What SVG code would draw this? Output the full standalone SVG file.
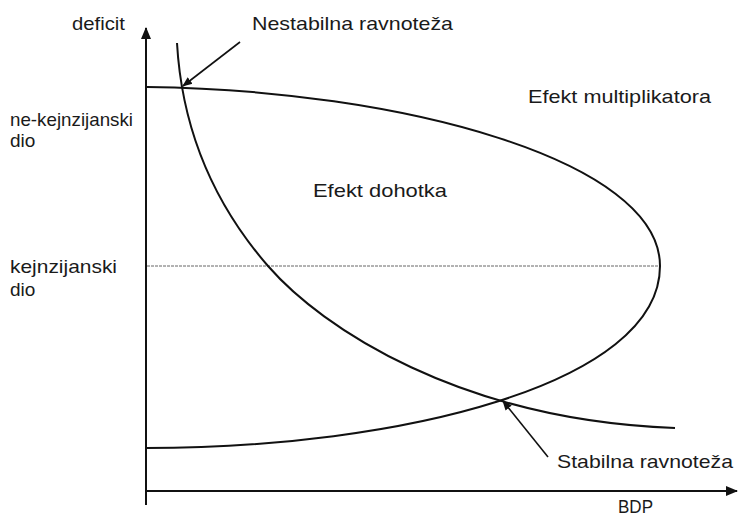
<svg xmlns="http://www.w3.org/2000/svg" width="739" height="518" viewBox="0 0 739 518">
<style>
.t{font-family:"Liberation Sans",Arial,sans-serif;font-size:19px;fill:#1a1a1a}
.c{fill:none;stroke:#111;stroke-width:2}
.ax{fill:none;stroke:#111;stroke-width:2}
.pt{fill:none;stroke:#111;stroke-width:1.6}
</style>
<defs>
<marker id="ah" viewBox="0 0 10 10" refX="9" refY="5" markerWidth="10" markerHeight="10" markerUnits="userSpaceOnUse" orient="auto"><path d="M0,1 L10,5 L0,9 Z" fill="#111"/></marker>
<marker id="axh" viewBox="0 0 12 10" refX="11" refY="5" markerWidth="12" markerHeight="10" markerUnits="userSpaceOnUse" orient="auto"><path d="M0,0 L12,5 L0,10 Z" fill="#111"/></marker>
</defs>
<rect width="739" height="518" fill="#fff"/>
<g id="axes">
<line class="ax" x1="146" y1="505" x2="146" y2="28" marker-end="url(#axh)"/>
<line class="ax" x1="145" y1="491" x2="737" y2="491" marker-end="url(#axh)"/>
</g>
<g id="kejnzijanski-line">
<line x1="147" y1="266" x2="660" y2="266" stroke="#666" stroke-width="1" stroke-dasharray="3,1"/>
</g>
<g id="curve-ellipse">
<path class="c" d="M147,87 C400,90 660,160 660,266 C660,384 400,448 146,448"/>
</g>
<g id="curve-hyperbola">
<path class="c" d="M177,43 C182,130 215,205 268,266 C322,328 460,420 675,428"/>
</g>
<g id="connectors">
<line class="pt" x1="240" y1="42" x2="183" y2="86" marker-end="url(#ah)"/>
<line class="pt" x1="548" y1="457" x2="503" y2="401" marker-end="url(#ah)"/>
</g>
<g id="labels">
<text class="t" x="72" y="30" textLength="53" lengthAdjust="spacingAndGlyphs">deficit</text>
<text class="t" x="252" y="30" textLength="201" lengthAdjust="spacingAndGlyphs">Nestabilna ravnoteža</text>
<text class="t" x="10" y="126" textLength="123" lengthAdjust="spacingAndGlyphs">ne-kejnzijanski</text>
<text class="t" x="10" y="147">dio</text>
<text class="t" x="528" y="103" textLength="183" lengthAdjust="spacingAndGlyphs">Efekt multiplikatora</text>
<text class="t" x="313" y="197" textLength="134" lengthAdjust="spacingAndGlyphs">Efekt dohotka</text>
<text class="t" x="10" y="273" textLength="107" lengthAdjust="spacingAndGlyphs">kejnzijanski</text>
<text class="t" x="10" y="296">dio</text>
<text class="t" x="557" y="468" textLength="176" lengthAdjust="spacingAndGlyphs">Stabilna ravnoteža</text>
<text class="t" x="618" y="513" font-size="17" textLength="35" lengthAdjust="spacingAndGlyphs">BDP</text>
</g>
</svg>
